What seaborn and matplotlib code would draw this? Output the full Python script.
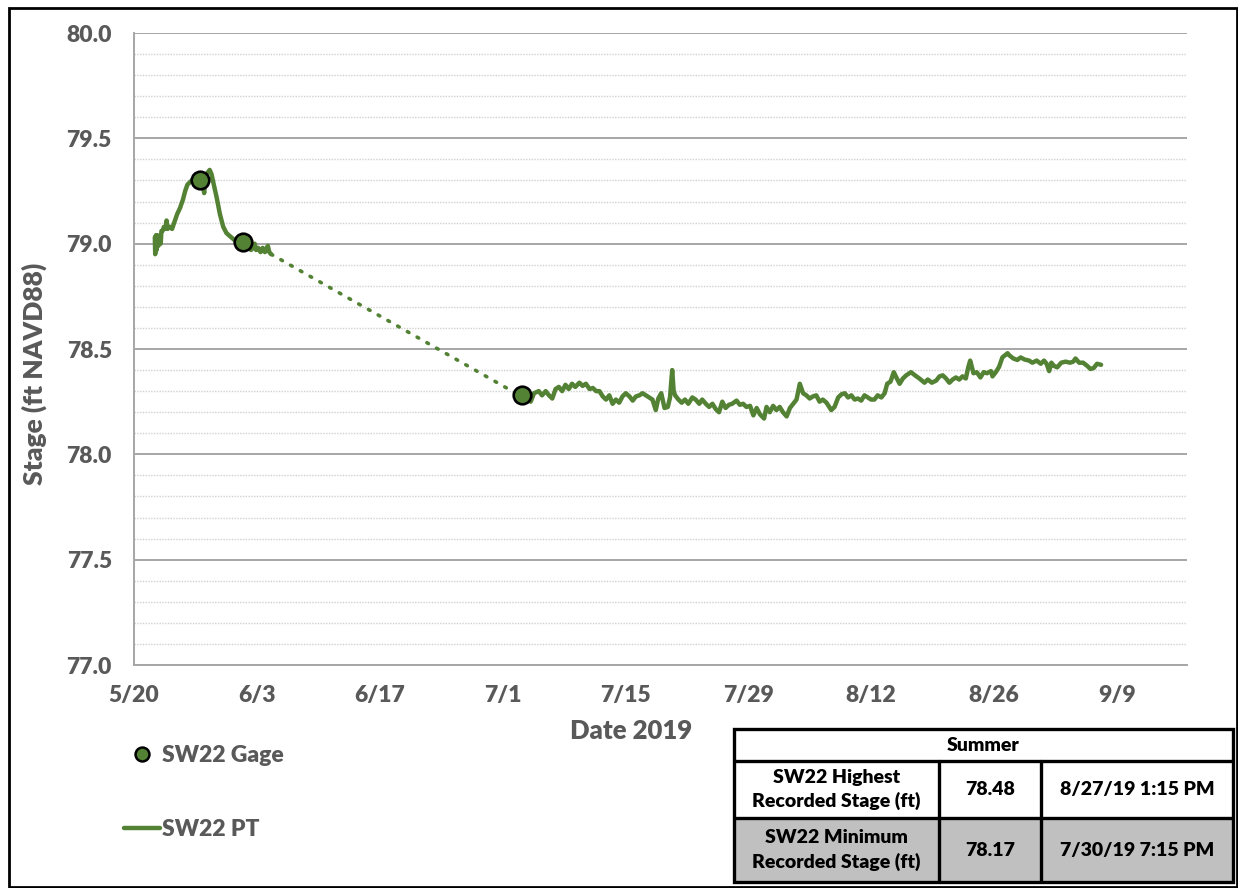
import matplotlib
matplotlib.use("Agg")
import matplotlib.pyplot as plt
import matplotlib.dates as mdates
from matplotlib.ticker import MultipleLocator, FixedLocator, NullFormatter
from matplotlib.patches import Rectangle
from matplotlib.lines import Line2D
import seaborn as sns
import pandas as pd

# ---------------- data ----------------
pt_early_times = [
    "2019-05-22 09:00", "2019-05-22 10:00", "2019-05-22 12:00", "2019-05-22 14:00",
    "2019-05-22 16:00", "2019-05-22 19:00", "2019-05-22 22:00", "2019-05-23 01:00",
    "2019-05-23 03:00", "2019-05-23 06:00", "2019-05-23 10:00", "2019-05-23 15:00",
    "2019-05-23 17:00", "2019-05-23 20:00", "2019-05-24 02:00", "2019-05-24 08:00",
    "2019-05-24 14:00", "2019-05-24 22:00", "2019-05-25 06:00", "2019-05-25 14:00",
    "2019-05-25 20:00", "2019-05-26 02:00", "2019-05-26 08:00", "2019-05-26 14:00",
    "2019-05-26 20:00", "2019-05-27 04:00", "2019-05-27 12:00", "2019-05-27 20:00",
    "2019-05-28 00:00", "2019-05-28 02:00", "2019-05-28 06:00", "2019-05-28 15:00",
    "2019-05-28 20:00", "2019-05-29 01:00", "2019-05-29 10:00", "2019-05-29 19:00",
    "2019-05-30 04:00", "2019-05-30 13:00", "2019-05-31 02:00", "2019-05-31 16:00",
    "2019-06-01 10:00", "2019-06-01 20:00", "2019-06-02 02:00", "2019-06-02 08:00",
    "2019-06-02 14:00", "2019-06-02 18:00", "2019-06-02 22:00", "2019-06-03 04:00",
    "2019-06-03 10:00", "2019-06-03 16:00", "2019-06-03 22:00", "2019-06-04 06:00",
    "2019-06-04 10:00", "2019-06-04 15:00",
]
pt_early_stage = [
    79.03, 78.95, 79.04, 78.97, 79.04, 78.99, 79.03, 79.00,
    79.06, 79.06, 79.08, 79.07, 79.11, 79.07, 79.08, 79.07,
    79.10, 79.14, 79.17, 79.21, 79.25, 79.28, 79.29, 79.30,
    79.31, 79.30, 79.30, 79.28, 79.24, 79.30, 79.33, 79.35,
    79.33, 79.29, 79.22, 79.14, 79.08, 79.05, 79.03, 79.01,
    79.00, 78.98, 78.99, 78.97, 78.98, 79.00, 78.97, 78.98,
    78.96, 78.98, 78.96, 78.99, 78.96, 78.95,
]

pt_late_times = [
    "2019-07-04 05:00", "2019-07-04 14:00", "2019-07-05 03:00", "2019-07-05 12:00",
    "2019-07-05 22:00", "2019-07-06 07:00", "2019-07-06 16:00", "2019-07-07 01:00",
    "2019-07-07 10:00", "2019-07-07 19:00", "2019-07-08 04:00", "2019-07-08 13:00",
    "2019-07-08 22:00", "2019-07-09 07:00", "2019-07-09 18:00", "2019-07-10 03:00",
    "2019-07-10 12:00", "2019-07-10 22:00", "2019-07-11 07:00", "2019-07-11 16:00",
    "2019-07-12 01:00", "2019-07-12 10:00", "2019-07-12 19:00", "2019-07-13 04:00",
    "2019-07-13 13:00", "2019-07-13 22:00", "2019-07-14 07:00", "2019-07-14 16:00",
    "2019-07-15 01:00", "2019-07-15 11:00", "2019-07-15 20:00", "2019-07-16 05:00",
    "2019-07-16 14:00", "2019-07-16 23:00", "2019-07-17 08:00", "2019-07-17 17:00",
    "2019-07-18 02:00", "2019-07-18 11:00", "2019-07-18 18:00", "2019-07-19 02:00",
    "2019-07-19 11:00", "2019-07-19 20:00", "2019-07-20 02:00", "2019-07-20 08:00",
    "2019-07-20 12:00", "2019-07-20 16:00", "2019-07-21 01:00", "2019-07-21 10:00",
    "2019-07-21 19:00", "2019-07-22 04:00", "2019-07-22 15:00", "2019-07-23 00:00",
    "2019-07-23 10:00", "2019-07-23 18:00", "2019-07-24 04:00", "2019-07-24 13:00",
    "2019-07-24 22:00", "2019-07-25 07:00", "2019-07-25 16:00", "2019-07-26 01:00",
    "2019-07-26 10:00", "2019-07-26 19:00", "2019-07-27 04:00", "2019-07-27 16:00",
    "2019-07-28 01:00", "2019-07-28 10:00", "2019-07-28 19:00", "2019-07-29 05:00",
    "2019-07-29 14:00", "2019-07-29 23:00", "2019-07-30 08:00", "2019-07-30 19:15",
    "2019-07-31 02:00", "2019-07-31 11:00", "2019-07-31 20:00", "2019-08-01 05:00",
    "2019-08-01 14:00", "2019-08-01 23:00", "2019-08-02 09:00", "2019-08-02 18:00",
    "2019-08-03 03:00", "2019-08-03 12:00", "2019-08-03 21:00", "2019-08-04 06:00",
    "2019-08-04 15:00", "2019-08-05 00:00", "2019-08-05 09:00", "2019-08-05 18:00",
    "2019-08-06 03:00", "2019-08-06 12:00", "2019-08-06 22:00", "2019-08-07 11:00",
    "2019-08-07 20:00", "2019-08-08 06:00", "2019-08-08 15:00", "2019-08-09 00:00",
    "2019-08-09 09:00", "2019-08-09 18:00", "2019-08-10 03:00", "2019-08-10 12:00",
    "2019-08-10 21:00", "2019-08-11 06:00", "2019-08-11 15:00", "2019-08-12 00:00",
    "2019-08-12 09:00", "2019-08-12 18:00", "2019-08-13 04:00", "2019-08-13 13:00",
    "2019-08-13 20:00", "2019-08-14 05:00", "2019-08-14 14:00", "2019-08-14 21:00",
    "2019-08-15 06:00", "2019-08-15 15:00", "2019-08-16 00:00", "2019-08-16 13:00",
    "2019-08-17 00:00", "2019-08-17 12:00", "2019-08-18 02:00", "2019-08-18 11:00",
    "2019-08-18 22:00", "2019-08-19 10:00", "2019-08-19 19:00", "2019-08-20 04:00",
    "2019-08-20 13:00", "2019-08-20 22:00", "2019-08-21 07:00", "2019-08-21 16:00",
    "2019-08-22 01:00", "2019-08-22 10:00", "2019-08-22 19:00", "2019-08-23 02:00",
    "2019-08-23 07:00", "2019-08-23 16:00", "2019-08-24 01:00", "2019-08-24 11:00",
    "2019-08-24 20:00", "2019-08-25 05:00", "2019-08-25 16:00", "2019-08-25 20:00",
    "2019-08-26 05:00", "2019-08-26 14:00", "2019-08-26 23:00", "2019-08-27 13:15",
    "2019-08-27 18:00", "2019-08-28 05:00", "2019-08-28 16:00", "2019-08-29 01:00",
    "2019-08-29 12:00", "2019-08-30 00:00", "2019-08-30 09:00", "2019-08-30 21:00",
    "2019-08-31 08:00", "2019-08-31 17:00", "2019-09-01 00:00", "2019-09-01 07:00",
    "2019-09-01 13:00", "2019-09-01 20:00", "2019-09-02 05:00", "2019-09-02 16:00",
    "2019-09-03 04:00", "2019-09-03 16:00", "2019-09-04 01:00", "2019-09-04 07:00",
    "2019-09-04 17:00", "2019-09-05 04:00", "2019-09-05 15:00", "2019-09-06 00:00",
    "2019-09-06 09:00", "2019-09-06 18:00", "2019-09-07 05:00",
]
pt_late_stage = [
    78.25, 78.29, 78.30, 78.28, 78.30, 78.28, 78.265, 78.31,
    78.32, 78.30, 78.33, 78.31, 78.335, 78.32, 78.34, 78.325,
    78.335, 78.31, 78.315, 78.30, 78.30, 78.275, 78.26, 78.28,
    78.24, 78.26, 78.245, 78.275, 78.29, 78.275, 78.255, 78.275,
    78.28, 78.29, 78.28, 78.27, 78.26, 78.21, 78.265, 78.29,
    78.22, 78.225, 78.27, 78.40, 78.30, 78.28, 78.26, 78.245,
    78.26, 78.24, 78.27, 78.26, 78.24, 78.26, 78.24, 78.225,
    78.24, 78.215, 78.20, 78.25, 78.22, 78.235, 78.24, 78.255,
    78.235, 78.24, 78.225, 78.23, 78.185, 78.22, 78.19, 78.17,
    78.225, 78.20, 78.23, 78.21, 78.225, 78.20, 78.18, 78.22,
    78.24, 78.26, 78.335, 78.29, 78.28, 78.265, 78.275, 78.28,
    78.25, 78.26, 78.245, 78.21, 78.225, 78.27, 78.285, 78.29,
    78.27, 78.28, 78.26, 78.265, 78.255, 78.28, 78.27, 78.26,
    78.26, 78.28, 78.27, 78.29, 78.335, 78.345, 78.39, 78.365,
    78.335, 78.36, 78.375, 78.39, 78.375, 78.36, 78.34, 78.355,
    78.34, 78.35, 78.37, 78.375, 78.36, 78.34, 78.355, 78.365,
    78.355, 78.37, 78.36, 78.415, 78.445, 78.385, 78.39, 78.365,
    78.39, 78.385, 78.395, 78.37, 78.39, 78.415, 78.46, 78.48,
    78.47, 78.455, 78.448, 78.46, 78.45, 78.445, 78.435, 78.445,
    78.43, 78.445, 78.43, 78.395, 78.435, 78.42, 78.413, 78.435,
    78.44, 78.435, 78.44, 78.455, 78.435, 78.435, 78.42, 78.405,
    78.41, 78.43, 78.425,
]

gage_times = ["2019-05-27 12:00", "2019-06-01 10:00", "2019-07-03 06:00"]
gage_stage = [79.30, 79.01, 78.28]

x_tick_dates = ["2019-05-20", "2019-06-03", "2019-06-17", "2019-07-01", "2019-07-15",
                "2019-07-29", "2019-08-12", "2019-08-26", "2019-09-09"]
x_tick_labels = ["5/20", "6/3", "6/17", "7/1", "7/15", "7/29", "8/12", "8/26", "9/9"]
x_minor_dates = ["2019-05-27", "2019-06-10", "2019-06-24", "2019-07-08", "2019-07-22",
                 "2019-08-05", "2019-08-19", "2019-09-02", "2019-09-16"]
x_limits = ["2019-05-20", "2019-09-17"]
y_ticks = [77.0, 77.5, 78.0, 78.5, 79.0, 79.5, 80.0]

series_names = ["SW22 Gage", "SW22 PT"]
x_title = "Date 2019"
y_title = "Stage (ft NAVD88)"

table_title = "Summer"
table_labels = ["SW22 Highest\nRecorded Stage (ft)", "SW22 Minimum\nRecorded Stage (ft)"]
table_values = ["78.48", "78.17"]
table_dates = ["8/27/19 1:15 PM", "7/30/19 7:15 PM"]

# ---------------- style ----------------
GREEN = "#548235"
GRAY_TXT = "#595959"
AXIS_GRAY = "#A6A6A6"
LW = 3.2

sns.set_theme(style="white")
plt.rcParams["font.family"] = ["Lato", "DejaVu Sans"]
plt.rcParams["font.weight"] = "bold"

W, H = 1238, 888
fig = plt.figure(figsize=(W / 100, H / 100), dpi=100)
fig.patch.set_facecolor("white")

def fx(px):
    return px / W

def fy(py):
    return 1 - py / H

ax = fig.add_axes([fx(134), fy(665), fx(1187) - fx(134), fy(33) - fy(665)])

early = pd.DataFrame({"time": pd.to_datetime(pt_early_times), "stage": pt_early_stage})
late = pd.DataFrame({"time": pd.to_datetime(pt_late_times), "stage": pt_late_stage})
gage = pd.DataFrame({"time": pd.to_datetime(gage_times), "stage": gage_stage})
gap = pd.concat([early.tail(1), late.head(1)])

sns.lineplot(data=gap, x="time", y="stage", ax=ax, color=GREEN, lw=2.6,
             linestyle=(0, (0.5, 2.6)), dash_capstyle="round", estimator=None, sort=False)
sns.lineplot(data=early, x="time", y="stage", ax=ax, color=GREEN, lw=LW,
             estimator=None, sort=False)
sns.lineplot(data=late, x="time", y="stage", ax=ax, color=GREEN, lw=LW,
             estimator=None, sort=False)
sns.scatterplot(data=gage, x="time", y="stage", ax=ax, color=GREEN, s=160,
                edgecolor="black", linewidth=1.9, zorder=5)

ax.set_xlim(pd.to_datetime(x_limits[0]), pd.to_datetime(x_limits[1]))
ax.set_ylim(y_ticks[0], y_ticks[-1])

ax.xaxis.set_major_locator(FixedLocator(mdates.date2num(pd.to_datetime(x_tick_dates))))
ax.xaxis.set_minor_locator(FixedLocator(mdates.date2num(pd.to_datetime(x_minor_dates))))
ax.set_xticklabels(x_tick_labels)
ax.xaxis.set_minor_formatter(NullFormatter())
ax.set_yticks(y_ticks)
ax.set_yticklabels([f"{v:.1f}" for v in y_ticks])
ax.yaxis.set_minor_locator(MultipleLocator(0.1))

ax.grid(False)
ax.grid(which="major", axis="y", color=AXIS_GRAY, lw=1.4, zorder=0)
ax.grid(which="minor", axis="y", color="#D0D0D0", lw=1.0, linestyle=(0, (1, 1)), zorder=0)
ax.set_axisbelow(True)

for s in ["top", "right"]:
    ax.spines[s].set_visible(False)
for s in ["left", "bottom"]:
    ax.spines[s].set_color(AXIS_GRAY)
    ax.spines[s].set_linewidth(1.4)

ax.tick_params(axis="x", which="both", direction="inout", length=11, width=1.2,
               color=AXIS_GRAY, labelsize=16.5, labelcolor=GRAY_TXT, pad=9)
ax.tick_params(axis="y", which="major", direction="out", length=6, width=1.2,
               color=AXIS_GRAY, labelsize=16.5, labelcolor=GRAY_TXT, pad=10)
ax.tick_params(axis="y", which="minor", length=0)
for lab in ax.get_xticklabels() + ax.get_yticklabels():
    lab.set_fontweight("heavy")

ax.set_xlabel("")
ax.set_ylabel("")
fig.text(fx(631), fy(731), x_title, ha="center", va="center", fontsize=18.5,
         fontweight="heavy", color=GRAY_TXT)
fig.text(fx(34), fy(374), y_title, ha="center", va="center", rotation=90, fontsize=19,
         fontweight="heavy", color=GRAY_TXT)

# legend
handles = [
    Line2D([], [], linestyle="none", marker="o", markersize=10, markerfacecolor=GREEN,
           markeredgecolor="black", markeredgewidth=1.8),
    Line2D([], [], color=GREEN, lw=LW),
]
fig.legend(handles, series_names, loc="upper left", bbox_to_anchor=(fx(124), fy(745)),
           frameon=False, handlelength=1.55, handletextpad=0.12,
           labelspacing=2.3, borderpad=0, borderaxespad=0,
           prop={"weight": "heavy", "size": 16.5}, labelcolor=GRAY_TXT)

# table
tx0, ty0, tx1, ty1 = 734, 729, 1233, 882
tab = fig.add_axes([fx(tx0), fy(ty1), fx(tx1) - fx(tx0), fy(ty0) - fy(ty1)])
tab.set_xlim(tx0, tx1)
tab.set_ylim(ty1, ty0)
tab.axis("off")
cols = [734, 939, 1041, 1233]
rows = [729, 761, 818, 882]
tab.add_patch(Rectangle((cols[0], rows[2]), cols[3] - cols[0], rows[3] - rows[2],
                        facecolor="#C0C0C0", edgecolor="none"))
tab.add_patch(Rectangle((cols[0], rows[0]), cols[3] - cols[0], rows[3] - rows[0],
                        facecolor="none", edgecolor="black", lw=2.4, clip_on=False))
for r in rows[1:3]:
    tab.plot([cols[0], cols[3]], [r, r], color="black", lw=2.4)
for c in cols[1:3]:
    tab.plot([c, c], [rows[1], rows[3]], color="black", lw=2.4)
tkw = dict(ha="center", va="center", fontsize=14, fontweight="heavy", color="black",
           linespacing=1.45)
tab.text((cols[0] + cols[3]) / 2, (rows[0] + rows[1]) / 2, table_title, **tkw)
for i in range(2):
    yc = (rows[i + 1] + rows[i + 2]) / 2
    tab.text((cols[0] + cols[1]) / 2, yc, table_labels[i], **tkw)
    tab.text((cols[1] + cols[2]) / 2, yc, table_values[i], **tkw)
    tab.text((cols[2] + cols[3]) / 2, yc, table_dates[i], **tkw)

# outer border
fig.add_artist(Rectangle((fx(9), fy(887)), fx(1237) - fx(9), fy(8) - fy(887),
                         transform=fig.transFigure, facecolor="none", edgecolor="black",
                         lw=2.0))

fig.savefig("out.png", dpi=100, facecolor="white")
